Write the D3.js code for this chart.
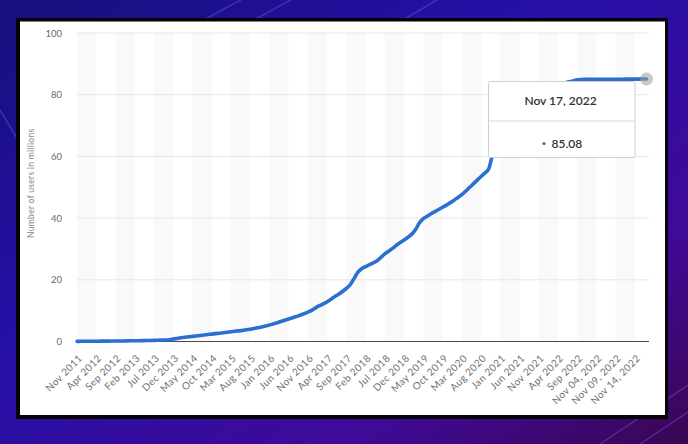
<!DOCTYPE html>
<html>
<head>
<meta charset="utf-8">
<script src="https://cdn.jsdelivr.net/npm/d3@7"></script>
<style>
  html, body { margin: 0; padding: 0; background: #1c0d80; }
  svg { display: block; }
</style>
</head>
<body>
<div id="graph"></div>
<script>
// tick labels shown every 5th point
let tickLabels = ["Nov 2011", "Apr 2012", "Sep 2012", "Feb 2013", "Jul 2013", "Dec 2013",
    "May 2014", "Oct 2014", "Mar 2015", "Aug 2015", "Jan 2016", "Jun 2016", "Nov 2016",
    "Apr 2017", "Sep 2017", "Feb 2018", "Jul 2018", "Dec 2018", "May 2019", "Oct 2019",
    "Mar 2020", "Aug 2020", "Jan 2021", "Jun 2021", "Nov 2021", "Apr 2022", "Sep 2022",
    "Nov 04, 2022", "Nov 09, 2022", "Nov 14, 2022"];

// monthly Nov 2011 - Oct 2022, then daily Nov 01 - Nov 17, 2022 (millions)
let monthlyUsers = [
    0.05, 0.06, 0.07, 0.08, 0.09, 0.1, 0.11, 0.12, 0.13, 0.14,
    0.15, 0.16, 0.18, 0.2, 0.22, 0.24, 0.26, 0.28, 0.3, 0.33,
    0.36, 0.4, 0.44, 0.48, 0.55, 0.8, 1.0, 1.2, 1.4, 1.5,
    1.65, 1.8, 1.95, 2.1, 2.25, 2.4, 2.55, 2.7, 2.85, 3.0,
    3.15, 3.3, 3.45, 3.6, 3.8, 4.0, 4.2, 4.45, 4.7, 5.0,
    5.35, 5.7, 6.1, 6.5, 6.9, 7.3, 7.7, 8.1, 8.5, 9.0,
    9.5, 10.1, 10.9, 11.6, 12.2, 12.9, 13.7, 14.6, 15.3, 16.2,
    17.2, 18.4, 20.4, 22.5, 23.6, 24.3, 24.9, 25.5, 26.2, 27.3,
    28.4, 29.3, 30.2, 31.2, 32.1, 32.9, 33.8, 34.8, 36.3, 38.5,
    39.8, 40.6, 41.4, 42.1, 42.8, 43.5, 44.2, 45.0, 45.8, 46.7,
    47.6, 48.7, 49.9, 51.1, 52.3, 53.5, 54.6, 56.0, 60.5, 62.5,
    64.5, 66.5, 68.5, 70.3, 72.0, 73.6, 75.0, 76.3, 77.5, 78.6,
    79.6, 80.5, 81.3, 82.0, 82.6, 83.1, 83.5, 83.9, 84.2, 84.5,
    84.8, 84.95];
let dailyUsers = [84.97, 84.98, 84.98, 84.99, 85.0, 85.0, 85.01, 85.01, 85.02,
    85.03, 85.03, 85.04, 85.05, 85.05, 85.06, 85.07, 85.08];
let yTicks = [0, 20, 40, 60, 80, 100];
let tooltipDate = "Nov 17, 2022";

let users = monthlyUsers.concat(dailyUsers);

const width = 688, height = 444;
const plot = { left: 77, right: 649, top: 33, bottom: 341.5 };

let svg = d3.select("#graph")
    .append("svg")
    .attr("width", width)
    .attr("height", height);

// background
let defs = svg.append("defs");
let bg = defs.append("linearGradient").attr("id", "bg")
    .attr("x1", "0%").attr("y1", "0%").attr("x2", "100%").attr("y2", "100%");
bg.append("stop").attr("offset", "0%").attr("stop-color", "#17107c");
bg.append("stop").attr("offset", "40%").attr("stop-color", "#2610a8");
bg.append("stop").attr("offset", "75%").attr("stop-color", "#3f0a98");
bg.append("stop").attr("offset", "100%").attr("stop-color", "#3a0652");

svg.append("rect").attr("width", width).attr("height", height).attr("fill", "url(#bg)");

let streaks = [[200, 22, 250, -5], [250, 22, 300, -5], [400, 22, 445, -5],
    [600, 444, 688, 385], [640, 444, 688, 412], [0, 110, 18, 140]];
svg.selectAll(".streak").data(streaks).enter().append("line")
    .attr("x1", d => d[0]).attr("y1", d => d[1])
    .attr("x2", d => d[2]).attr("y2", d => d[3])
    .attr("stroke", "#7a6cf0").attr("stroke-opacity", 0.35).attr("stroke-width", 1.5);

// card
svg.append("rect").attr("x", 16).attr("y", 18).attr("width", 652).attr("height", 401).attr("fill", "#050208");
svg.append("rect").attr("x", 20).attr("y", 21.5).attr("width", 645).attr("height", 393.5).attr("fill", "#ffffff");

let x = d3.scaleLinear()
    .domain([0, users.length - 1])
    .range([plot.left, 646.5]);

let y = d3.scaleLinear()
    .domain([0, 100])
    .range([plot.bottom, plot.top]);

// alternating bands every 5 points
let bandStarts = d3.range(0, users.length, 10);
svg.append("g").selectAll("rect").data(bandStarts).enter().append("rect")
    .attr("x", d => x(d))
    .attr("y", plot.top)
    .attr("width", d => Math.min(x(d + 5), plot.right) - x(d))
    .attr("height", plot.bottom - plot.top)
    .attr("fill", "#f9f9f9");

// grid
svg.append("g").selectAll("line").data(yTicks.slice(1)).enter().append("line")
    .attr("x1", plot.left).attr("x2", plot.right)
    .attr("y1", d => y(d)).attr("y2", d => y(d))
    .attr("stroke", "#e6e6e6").attr("stroke-width", 1);

// y axis labels
let yAxis = svg.append("g")
    .attr("transform", `translate(${plot.left}, 0)`)
    .call(d3.axisLeft(y).tickValues(yTicks).tickSize(0).tickPadding(15));
yAxis.select(".domain").remove();
yAxis.selectAll("text")
    .style("font-family", "Lato, sans-serif")
    .style("font-size", "9.5px")
    .attr("fill", "#6a6a6a");

svg.append("text")
    .attr("transform", `translate(34, ${(plot.top + plot.bottom) / 2 - 4})rotate(-90)`)
    .style("text-anchor", "middle")
    .style("font-family", "Lato, sans-serif")
    .style("font-size", "8.5px")
    .style("letter-spacing", "0.3px")
    .attr("fill", "#888")
    .text("Number of users in millions");

// x axis
let tickIdx = tickLabels.map((d, i) => i * 5);
let xAxis = svg.append("g")
    .attr("transform", `translate(0, ${plot.bottom})`)
    .call(d3.axisBottom(x).tickValues(tickIdx).tickSize(0)
        .tickFormat((d, i) => tickLabels[i]));
xAxis.select(".domain").remove();
xAxis.selectAll("text")
    .attr("transform", "translate(3, 15)rotate(-45)")
    .attr("dy", "0.35em")
    .attr("y", 0)
    .style("text-anchor", "end")
    .style("font-family", "Lato, sans-serif")
    .style("font-size", "10px")
    .style("letter-spacing", "0.4px")
    .attr("fill", "#707070");

svg.append("line")
    .attr("x1", plot.left).attr("x2", plot.right)
    .attr("y1", plot.bottom).attr("y2", plot.bottom)
    .attr("stroke", "#4a4a4a").attr("stroke-width", 1.2);

// the line
let line = d3.line()
    .x((d, i) => x(i))
    .y(d => y(d))
    .curve(d3.curveMonotoneX);

svg.append("path")
    .datum(users)
    .attr("fill", "none")
    .attr("stroke", "#2b6fcf")
    .attr("stroke-width", 3.6)
    .attr("stroke-linejoin", "round")
    .attr("stroke-linecap", "round")
    .attr("d", line);

let last = users.length - 1;
svg.append("circle")
    .attr("cx", x(last)).attr("cy", y(users[last]))
    .attr("r", 6.5)
    .attr("fill", "#9a9a9a").attr("fill-opacity", 0.55);

// tooltip
let tip = svg.append("g").attr("transform", "translate(488.5, 81.5)");
tip.append("rect")
    .attr("width", 146.5).attr("height", 76)
    .attr("rx", 2)
    .attr("fill", "#ffffff")
    .attr("stroke", "#cfcfcf").attr("stroke-width", 1);
tip.append("line")
    .attr("x1", 0.5).attr("x2", 146)
    .attr("y1", 39.5).attr("y2", 39.5)
    .attr("stroke", "#d8d8d8");
tip.append("text")
    .attr("x", 72).attr("y", 23.5)
    .style("text-anchor", "middle")
    .style("font-family", "Lato, sans-serif")
    .style("font-size", "12px")
    .style("font-weight", 600)
    .attr("fill", "#333")
    .text(tooltipDate);
tip.append("circle")
    .attr("cx", 55.5).attr("cy", 62)
    .attr("r", 1.6)
    .attr("fill", "#2b6fcf");
tip.append("text")
    .attr("x", 63).attr("y", 66)
    .style("font-family", "Lato, sans-serif")
    .style("font-size", "12px")
    .style("font-weight", 600)
    .attr("fill", "#333")
    .text(users[last].toFixed(2));
</script>
</body>
</html>
